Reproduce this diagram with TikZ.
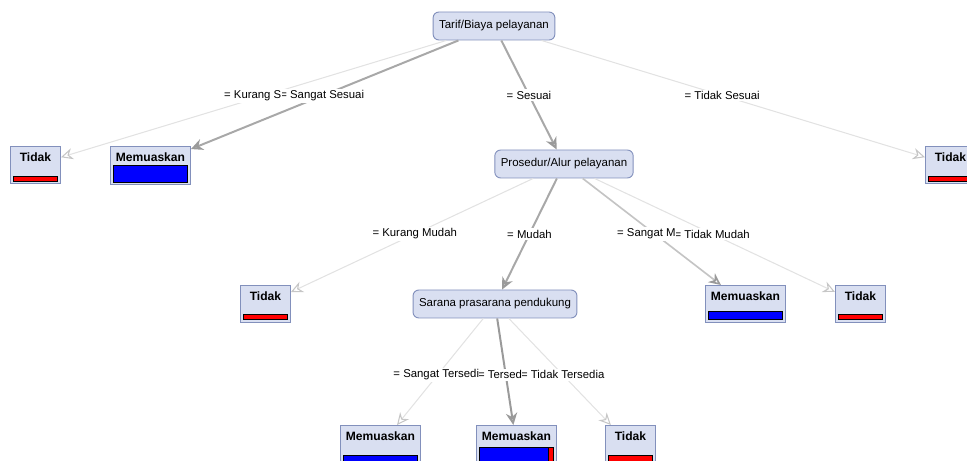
\documentclass[tikz,border=0pt]{standalone}
\usepackage{fontspec}
\setmainfont{Liberation Sans}
\usetikzlibrary{arrows.meta,calc,positioning}
\definecolor{nodefill}{HTML}{D9DFF1}
\definecolor{nodeline}{HTML}{8290BC}
\definecolor{edgefaint}{HTML}{E2E2E2}
\definecolor{edgemid}{HTML}{C4C4C4}
\definecolor{edgedark}{HTML}{A8A8A8}
\definecolor{tipfaint}{HTML}{C6C6C6}
\definecolor{tipdark}{HTML}{9A9A9A}

\tikzset{
  attr/.style={draw=nodeline, fill=nodefill, rounded corners=5pt, line width=0.8pt,
    minimum height=0.84cm, inner xsep=0.18cm, font=\fontsize{9.8}{11}\selectfont},
  leaf/.style={draw=nodeline, fill=nodefill, line width=0.8pt, anchor=north west,
    minimum width=1.5cm, minimum height=1.11cm, inner sep=0pt},
  wideleaf/.style={leaf, minimum width=2.4cm},
  leaftext/.style={anchor=north, inner sep=0pt, font=\fontsize{10.3}{12}\selectfont\bfseries},
  elabel/.style={fill=white, inner xsep=0.3pt, inner ysep=1.5pt, font=\fontsize{9.7}{11}\selectfont},
  redbar/.style={draw=black, fill=red, line width=0.6pt},
  bluebar/.style={draw=black, fill=blue, line width=0.6pt},
  faint/.style={draw=edgefaint, line width=0.9pt,
    -{Stealth[open, length=3.6mm, width=3.4mm, color=tipfaint]}},
  medium/.style={draw=edgemid, line width=1.4pt,
    -{Stealth[open, length=3.6mm, width=3.4mm, color=tipdark]}},
  heavy/.style={draw=edgedark, line width=1.7pt,
    -{Stealth[open, length=3.6mm, width=3.4mm, color=tipdark]}}
}

\begin{document}
\begin{tikzpicture}[x=0.03cm, y=-0.03cm]
        \useasboundingbox (0,0) rectangle (967,461);
        % Inner nodes
        \node[attr] (tarif) at (494,26) {Tarif/Biaya pelayanan};
        \node[attr] (prosedur) at (564,164) {Prosedur/Alur pelayanan};
        \node[attr] (sarana) at (495,304) {Sarana prasarana pendukung};
        % Leaves, first level
        \node[leaf] (tidakA) at (10,146) {};
        \node[leaftext] (tidakA-t) at ([yshift=-0.21cm]tidakA.north) {Tidak};
        \draw[redbar] (13,176) rectangle (57,181);
        \node[wideleaf, minimum height=1.14cm] (memA) at (110,146) {};
        \node[leaftext] (memA-t) at ([yshift=-0.21cm]memA.north) {Memuaskan};
        \draw[bluebar] (113,165) rectangle (187,182);
        \node[leaf] (tidakB) at (925,146) {};
        \node[leaftext] (tidakB-t) at ([yshift=-0.21cm]tidakB.north) {Tidak};
        \draw[redbar] (928,176) rectangle (972,181);
        % Leaves, second level
        \node[leaf] (tidakC) at (240,285) {};
        \node[leaftext] (tidakC-t) at ([yshift=-0.21cm]tidakC.north) {Tidak};
        \draw[redbar] (243,314) rectangle (287,319);
        \node[wideleaf] (memB) at (705,285) {};
        \node[leaftext] (memB-t) at ([yshift=-0.21cm]memB.north) {Memuaskan};
        \draw[bluebar] (708,311) rectangle (782,319);
        \node[leaf] (tidakD) at (835,285) {};
        \node[leaftext] (tidakD-t) at ([yshift=-0.21cm]tidakD.north) {Tidak};
        \draw[redbar] (838,314) rectangle (882,319);
        % Leaves, third level
        \node[wideleaf, minimum height=1.2cm] (memC) at (340,425) {};
        \node[leaftext] (memC-t) at ([yshift=-0.21cm]memC.north) {Memuaskan};
        \draw[bluebar] (343,455) rectangle (417,463);
        \node[wideleaf, minimum height=1.2cm] (memD) at (476,425) {};
        \node[leaftext] (memD-t) at ([yshift=-0.21cm]memD.north) {Memuaskan};
        \draw[bluebar] (479,447) rectangle (548,463);
        \draw[redbar] (548,447) rectangle (553,463);
        \node[leaf, minimum height=1.2cm] (tidakE) at (605,425) {};
        \node[leaftext] (tidakE-t) at ([yshift=-0.21cm]tidakE.north) {Tidak};
        \draw[redbar] (608,455) rectangle (652,463);
        % Edges
        \draw[faint] (tarif) -- (tidakA);
        \draw[heavy] (tarif) -- (memA);
        \draw[heavy] (tarif) -- (prosedur);
        \draw[faint] (tarif) -- (tidakB);
        \draw[faint] (prosedur) -- (tidakC);
        \draw[heavy] (prosedur) -- (sarana);
        \draw[medium] (prosedur) -- (memB);
        \draw[faint] (prosedur) -- (tidakD);
        \draw[faint] (sarana) -- (memC);
        \draw[heavy, draw=tipdark] (sarana) -- (memD);
        \draw[faint] (sarana) -- (tidakE);
        % Edge labels
        \node[elabel] (lSangatSesuai) at ($(tarif)!0.5!(memA)$) {= Sangat Sesuai};
        \node[elabel, anchor=east] (lKurangS) at ([xshift=1.8pt]lSangatSesuai.west) {= Kurang S};
        \node[elabel] (lSesuai) at ($(tarif)!0.5!(prosedur)$) {= Sesuai};
        \node[elabel] (lTidakSesuai) at ($(tarif)!0.5!(tidakB)$) {= Tidak Sesuai};
        \node[elabel] (lKurangMudah) at ($(prosedur)!0.5!(tidakC)$) {= Kurang Mudah};
        \node[elabel] (lMudah) at ($(prosedur)!0.5!(sarana)$) {= Mudah};
        \node[elabel] (lTidakMudah) at ($(prosedur)!0.5!(tidakD)$) {= Tidak Mudah};
        \node[elabel, anchor=east] (lSangatM) at ([xshift=1.8pt]lTidakMudah.west) {= Sangat M};
        \node[elabel] (lTidakTersedia) at ($(sarana)!0.5!(tidakE)$) {= Tidak Tersedia};
        \node[elabel, anchor=east] (lTersed) at ([xshift=1.8pt]lTidakTersedia.west) {= Tersed};
        \node[elabel, anchor=east] (lSangatTersedi) at ([xshift=1.8pt]lTersed.west) {= Sangat Tersedi};
\end{tikzpicture}
\end{document}
